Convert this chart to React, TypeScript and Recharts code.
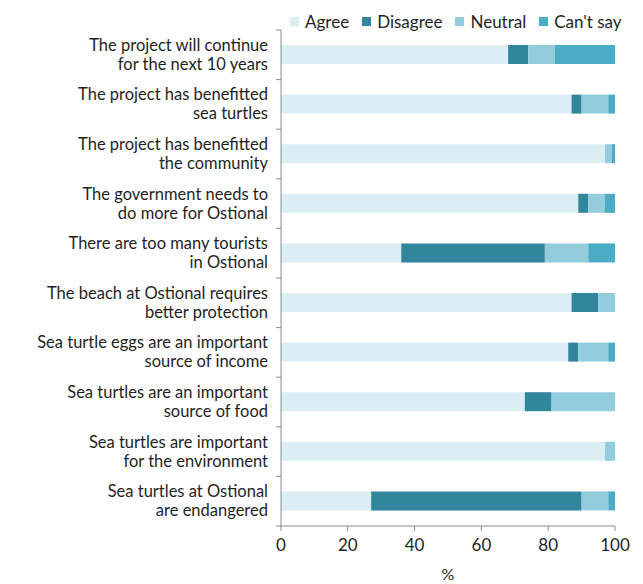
import { BarChart, Bar, XAxis, YAxis } from "recharts";

const categories = [
  "The project will continue\nfor the next 10 years",
  "The project has benefitted\nsea turtles",
  "The project has benefitted\nthe community",
  "The government needs to\ndo more for Ostional",
  "There are too many tourists\nin Ostional",
  "The beach at Ostional requires\nbetter protection",
  "Sea turtle eggs are an important\nsource of income",
  "Sea turtles are an important\nsource of food",
  "Sea turtles are important\nfor the environment",
  "Sea turtles at Ostional\nare endangered",
];

const agree = [68, 87, 97, 89, 36, 87, 86, 73, 97, 27];
const disagree = [6, 3, 0, 3, 43, 8, 3, 8, 0, 63];
const neutral = [8, 8, 2, 5, 13, 5, 9, 19, 3, 8];
const cantSay = [18, 2, 1, 3, 8, 0, 2, 0, 0, 2];

const xTicks = [0, 20, 40, 60, 80, 100];

const series = [
  { key: "agree", name: "Agree", color: "#dbeef4" },
  { key: "disagree", name: "Disagree", color: "#31859c" },
  { key: "neutral", name: "Neutral", color: "#93cddd" },
  { key: "cantSay", name: "Can't say", color: "#4bacc6" },
];

const data = categories.map((c, i) => ({
  statement: c,
  agree: agree[i],
  disagree: disagree[i],
  neutral: neutral[i],
  cantSay: cantSay[i],
}));

const W = 635;
const H = 576;
const TOP = 22;
const XH = 58;
const band = (H - TOP - XH) / categories.length;
const AXIS = "#8c8c8c";
const TEXT = "#1f1f1f";
const FONT = "Lato, 'Open Sans', sans-serif";

const YTick = (props: any) => {
  const { x, y, payload, index } = props;
  const lines = String(payload.value).split("\n");
  const ax = x + 8;
  return (
    <g>
      <line x1={ax} x2={ax + 5} y1={y - band / 2} y2={y - band / 2} stroke={AXIS} />
      {index === categories.length - 1 && (
        <line x1={ax} x2={ax + 5} y1={y + band / 2} y2={y + band / 2} stroke={AXIS} />
      )}
      <text x={x} y={y} textAnchor="end" fontSize={16.5} fill={TEXT} fontFamily={FONT}>
        {lines.map((l, i) => (
          <tspan key={i} x={x} dy={i === 0 ? -4 : 19}>
            {l}
          </tspan>
        ))}
      </text>
    </g>
  );
};

export default function App() {
  return (
    <div style={{ position: "relative", width: W, height: H, fontFamily: FONT }}>
      <div
        style={{
          position: "absolute",
          left: 282,
          top: 3,
          display: "flex",
          alignItems: "center",
          fontSize: 17,
          color: TEXT,
          whiteSpace: "nowrap",
        }}
      >
        {series.map((s) => (
          <div key={s.key} style={{ display: "flex", alignItems: "center", marginRight: 13 }}>
            <span style={{ width: 9, height: 9, background: s.color, marginRight: 6, display: "inline-block" }} />
            {s.name}
          </div>
        ))}
      </div>
      <BarChart
        width={W}
        height={H}
        data={data}
        layout="vertical"
        margin={{ top: TOP, right: 28, left: 0, bottom: 0 }}
        barSize={19}
      >
        <XAxis
          type="number"
          domain={[0, 100]}
          ticks={xTicks}
          stroke={AXIS}
          tickSize={5}
          tickMargin={8}
          height={XH}
          tick={{ fill: TEXT, fontSize: 17, fontFamily: FONT }}
          label={{ value: "%", position: "insideBottom", offset: 4, fill: TEXT, fontSize: 16, fontFamily: FONT }}
        />
        <YAxis
          type="category"
          dataKey="statement"
          width={273}
          stroke={AXIS}
          tickLine={false}
          tickSize={5}
          tickMargin={8}
          interval={0}
          tick={<YTick />}
        />
        {series.map((s) => (
          <Bar key={s.key} dataKey={s.key} name={s.name} stackId="a" fill={s.color} isAnimationActive={false} />
        ))}
      </BarChart>
    </div>
  );
}
